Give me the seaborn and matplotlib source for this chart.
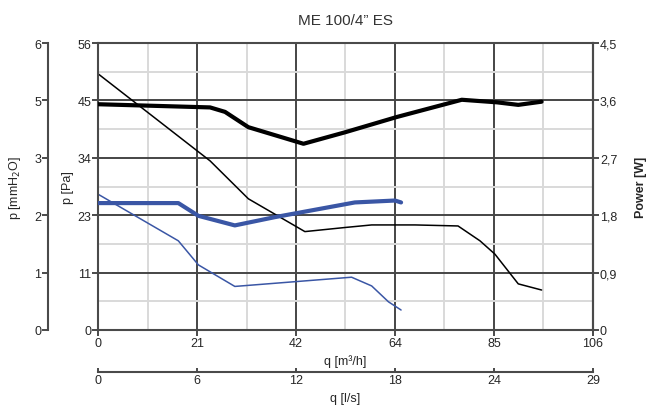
import numpy as np
import pandas as pd
import seaborn as sns
import matplotlib.pyplot as plt
from matplotlib.ticker import FixedLocator

# pressure curves (q in m3/h, p in Pa)
q_p_black = [0, 24.0, 32.2, 44.3, 52.9, 58.6, 67.9, 77.1, 81.8, 85.0, 90.0, 95.0]
p_black = [50.0, 33.0, 25.6, 19.2, 20.0, 20.5, 20.5, 20.3, 17.4, 14.8, 9.0, 7.8]
q_p_blue = [0, 17.2, 21.5, 29.3, 54.3, 58.6, 62.2, 64.9]
p_blue = [26.5, 17.4, 12.7, 8.5, 10.3, 8.6, 5.5, 3.9]

# power curves (W)
q_w_black = [0, 24.0, 27.2, 32.2, 44.0, 52.9, 64.0, 77.9, 85.4, 90.0, 95.0]
w_black = [3.54, 3.49, 3.42, 3.18, 2.92, 3.10, 3.34, 3.61, 3.57, 3.53, 3.58]
q_w_blue = [0, 17.2, 21.5, 29.3, 37.9, 55.0, 63.6, 64.9]
w_blue = [1.99, 1.99, 1.79, 1.64, 1.77, 2.00, 2.03, 2.00]

# tick labels
q_labels = ['0', '21', '42', '64', '85', '106']
ls_labels = ['0', '6', '12', '18', '24', '29']
pa_labels = ['0', '11', '23', '34', '45', '56']
mm_labels = ['0', '1', '2', '3', '5', '6']
w_labels = ['0', '0,9', '1,8', '2,7', '3,6', '4,5']

sns.set_style('white')
plt.rcParams['font.family'] = ['Liberation Sans', 'DejaVu Sans']
plt.rcParams['font.size'] = 9

dark = '#4a4a4a'
blue = '#3a56a5'

fig = plt.figure(figsize=(6.47, 4.14), dpi=100)
ax = fig.add_axes([0.1515, 0.2005, 0.765, 0.6932])

xmax, ymax, wmax = 106, 56, 4.5
xt = np.linspace(0, xmax, 6)
yt = np.linspace(0, ymax, 6)

ax.set_xlim(0, xmax)
ax.set_ylim(0, ymax)
ax.xaxis.set_major_locator(FixedLocator(xt))
ax.yaxis.set_major_locator(FixedLocator(yt))
ax.xaxis.set_minor_locator(FixedLocator(xt[:-1] + xmax / 10))
ax.yaxis.set_minor_locator(FixedLocator(yt[:-1] + ymax / 10))
ax.set_xticklabels(q_labels)
ax.set_yticklabels(pa_labels)
ax.grid(which='major', color='#454545', lw=1.4)
ax.grid(which='minor', color='#d9d9d9', lw=1.4)
ax.set_axisbelow(True)
ax.tick_params(which='major', direction='out', length=4, width=1.4, color=dark, pad=1, labelsize=9)
ax.tick_params(which='minor', length=0)
for s in ax.spines.values():
    s.set_color(dark)
    s.set_linewidth(1.5)
ax.set_xlabel('q [m³/h]', fontsize=9, labelpad=4)
ax.set_ylabel('p [Pa]', fontsize=9, labelpad=2)

sns.lineplot(x=q_p_black, y=p_black, ax=ax, color='black', lw=1.1, sort=False, estimator=None)
sns.lineplot(x=q_p_blue, y=p_blue, ax=ax, color=blue, lw=1.1, sort=False, estimator=None)

# power axis
axw = ax.twinx()
axw.set_ylim(0, wmax)
axw.yaxis.set_major_locator(FixedLocator(np.linspace(0, wmax, 6)))
axw.set_yticklabels(w_labels)
axw.tick_params(direction='out', length=4, width=1.4, color=dark, pad=1, labelsize=9)
for s in axw.spines.values():
    s.set_visible(False)
axw.spines['right'].set_visible(True)
axw.spines['right'].set_color(dark)
axw.spines['right'].set_linewidth(1.5)
axw.set_ylabel('Power [W]', fontsize=9, fontweight='bold', labelpad=13)
sns.lineplot(x=q_w_black, y=w_black, ax=axw, color='black', lw=3.0, sort=False, estimator=None)
sns.lineplot(x=q_w_blue, y=w_blue, ax=axw, color=blue, lw=3.0, sort=False, estimator=None)

# mmH2O axis
axm = ax.twinx()
axm.set_ylim(0, ymax)
axm.yaxis.set_ticks_position('left')
axm.yaxis.set_label_position('left')
axm.yaxis.set_major_locator(FixedLocator(yt))
axm.set_yticklabels(mm_labels)
for s in axm.spines.values():
    s.set_visible(False)
axm.spines['left'].set_visible(True)
axm.spines['left'].set_position(('outward', 36))
axm.spines['left'].set_color(dark)
axm.spines['left'].set_linewidth(1.5)
axm.tick_params(direction='out', length=4, width=1.4, color=dark, pad=1, labelsize=9)
axm.set_ylabel(r'p [mmH$_2$O]', fontsize=9, labelpad=8)

# l/s axis
axl = ax.twiny()
axl.set_xlim(0, xmax)
axl.xaxis.set_ticks_position('bottom')
axl.xaxis.set_label_position('bottom')
axl.xaxis.set_major_locator(FixedLocator(xt))
axl.set_xticklabels(ls_labels)
for s in axl.spines.values():
    s.set_visible(False)
axl.spines['bottom'].set_visible(True)
axl.spines['bottom'].set_position(('outward', 30))
axl.spines['bottom'].set_color(dark)
axl.spines['bottom'].set_linewidth(1.5)
axl.tick_params(direction='in', length=3, width=1.4, color=dark, pad=2, labelsize=9)
axl.set_xlabel('q [l/s]', fontsize=9, labelpad=4)

ax.set_title('ME 100/4” ES', fontsize=11, color='#333333', pad=14)

fig.savefig('out.png', dpi=100)
